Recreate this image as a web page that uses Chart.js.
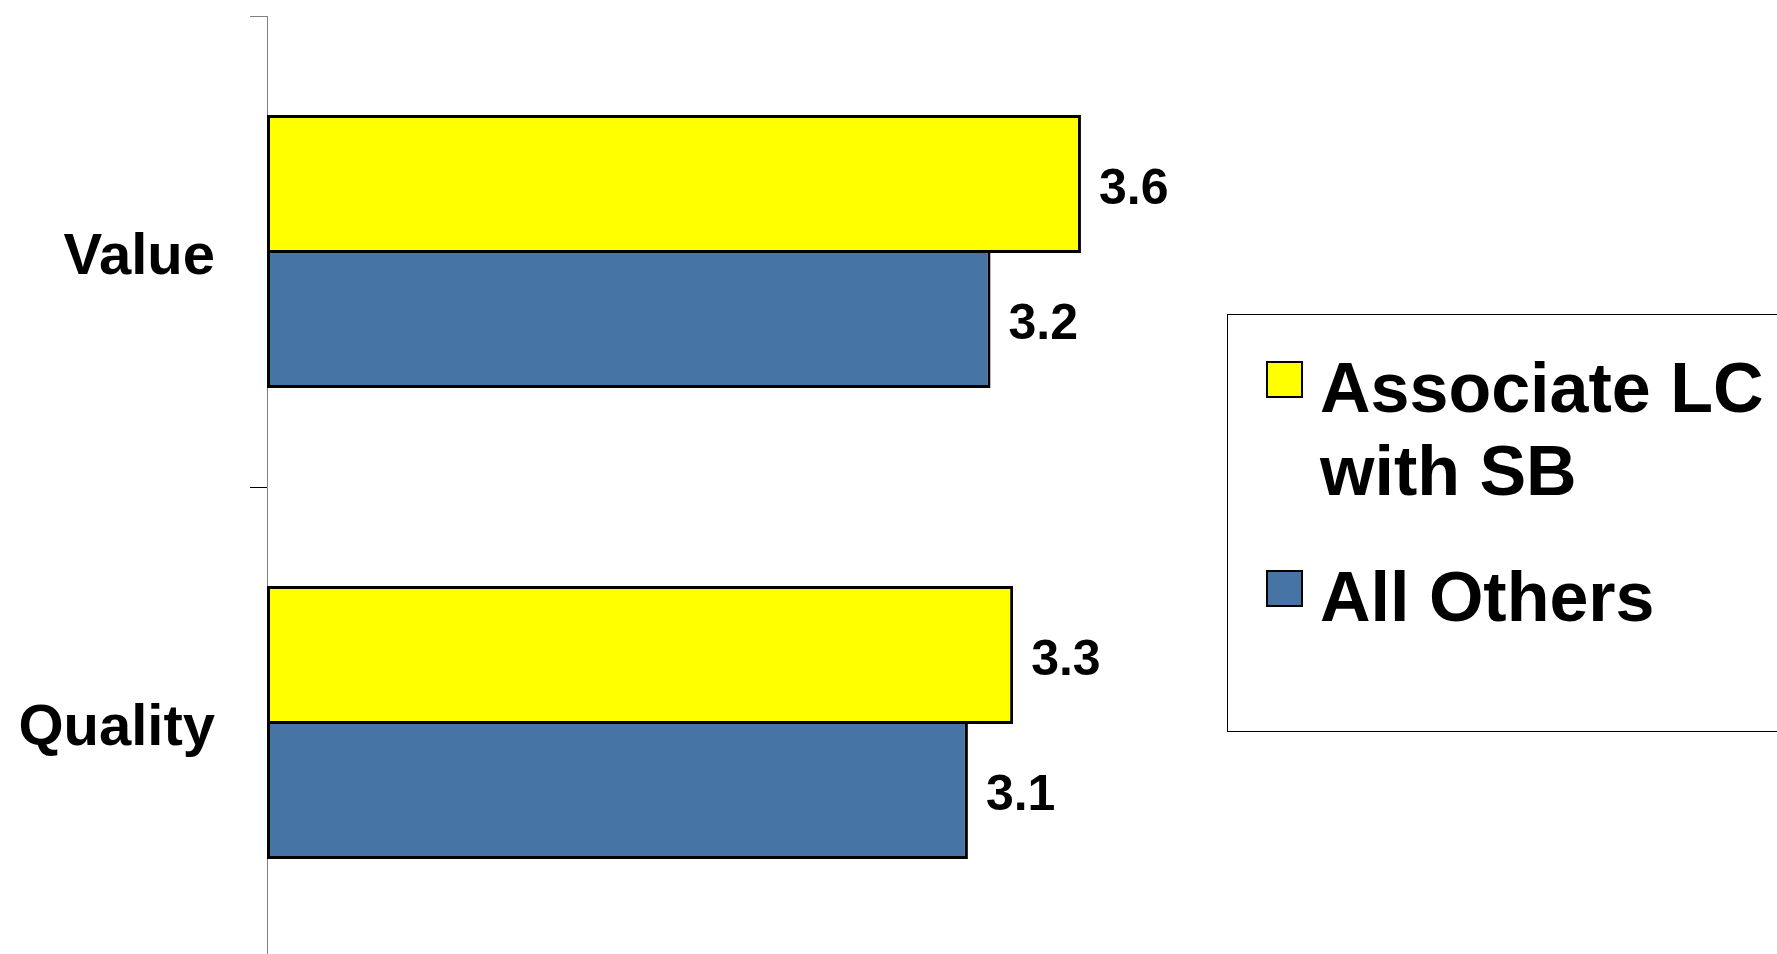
<!DOCTYPE html>
<html>
<head>
<meta charset="utf-8">
<script src="https://cdn.jsdelivr.net/npm/chart.js@4.4.1/dist/chart.umd.min.js"></script>
<style>
html, body { margin: 0; padding: 0; background: #fff; overflow: hidden; }
canvas { display: block; }
</style>
</head>
<body>
<canvas id="chart" width="1777" height="960"></canvas>
<script>
// categories and series
var categories = ['Value', 'Quality'];
var seriesNames = [['Associate LC', 'with SB'], ['All Others']];
var associateValues = [3.6, 3.3];
var othersValues = [3.2, 3.1];
var seriesColors = ['#FFFF00', '#4674A5'];

var FONT = "'Liberation Sans', Arial, Helvetica, sans-serif";
Chart.defaults.font.family = FONT;
Chart.defaults.color = '#000';

// value labels to the right of each bar
var barValueLabels = {
    id: 'barValueLabels',
    afterDatasetsDraw: function (chart) {
        var ctx = chart.ctx;
        ctx.save();
        ctx.font = 'bold 50px ' + FONT;
        ctx.fillStyle = '#000';
        ctx.textAlign = 'left';
        ctx.textBaseline = 'alphabetic';
        chart.data.datasets.forEach(function (ds, i) {
            chart.getDatasetMeta(i).data.forEach(function (bar, j) {
                ctx.fillText(ds.data[j].toFixed(1), bar.x + 18, bar.y + 20);
            });
        });
        ctx.restore();
    }
};

// framed legend on the right
var boxLegend = {
    id: 'boxLegend',
    afterDraw: function (chart, args, opts) {
        var ctx = chart.ctx;
        ctx.save();
        ctx.strokeStyle = '#000';
        ctx.lineWidth = 1;
        ctx.strokeRect(opts.left + 0.5, opts.top + 0.5, opts.width, opts.height);

        ctx.font = 'bold 70px ' + FONT;
        ctx.textAlign = 'left';
        ctx.textBaseline = 'alphabetic';
        chart.data.datasets.forEach(function (ds, i) {
            var top = opts.itemTops[i];
            // swatch
            ctx.fillStyle = '#000';
            ctx.fillRect(opts.swatchX, top, 37, 37);
            ctx.fillStyle = ds.backgroundColor;
            ctx.fillRect(opts.swatchX + 2, top + 2, 33, 33);
            // text lines
            ctx.fillStyle = '#000';
            seriesNames[i].forEach(function (line, k) {
                ctx.fillText(line, opts.textX, top + 51 + k * 83);
            });
        });
        ctx.restore();
    }
};

var ctx = document.getElementById('chart').getContext('2d');
new Chart(ctx, {
    type: 'bar',
    data: {
        labels: categories,
        datasets: [
            {
                label: seriesNames[0].join(' '),
                data: associateValues,
                backgroundColor: seriesColors[0],
                borderColor: '#000',
                borderWidth: 3,
                borderSkipped: false,
                categoryPercentage: 0.5732,
                barPercentage: 1.022
            },
            {
                label: seriesNames[1].join(' '),
                data: othersValues,
                backgroundColor: seriesColors[1],
                borderColor: '#000',
                borderWidth: 3,
                borderSkipped: false,
                categoryPercentage: 0.5732,
                barPercentage: 1.022
            }
        ]
    },
    options: {
        indexAxis: 'y',
        responsive: false,
        devicePixelRatio: 1,
        animation: false,
        layout: {
            padding: { left: 0, top: 16, right: 379.5, bottom: 2 }
        },
        plugins: {
            legend: { display: false },
            tooltip: { enabled: true },
            boxLegend: {
                left: 1227, top: 314, width: 600, height: 417,
                swatchX: 1266, textX: 1320,
                itemTops: [361, 570]
            }
        },
        scales: {
            x: {
                type: 'linear',
                min: 0,
                max: 5,
                display: false
            },
            y: {
                grid: {
                    offset: true,
                    drawOnChartArea: false,
                    drawTicks: true,
                    tickLength: 17,
                    color: function (c) { return c.index === 0 ? '#808080' : '#000'; }
                },
                border: { color: '#808080', width: 1 },
                ticks: {
                    padding: 35,
                    labelOffset: 6.5,
                    color: '#000',
                    font: { size: 58, weight: 'bold' }
                },
                afterFit: function (scale) {
                    scale.width = 267;
                    scale.paddingTop = 0;
                    scale.paddingBottom = 0;
                }
            }
        }
    },
    plugins: [barValueLabels, boxLegend]
});
</script>
</body>
</html>
